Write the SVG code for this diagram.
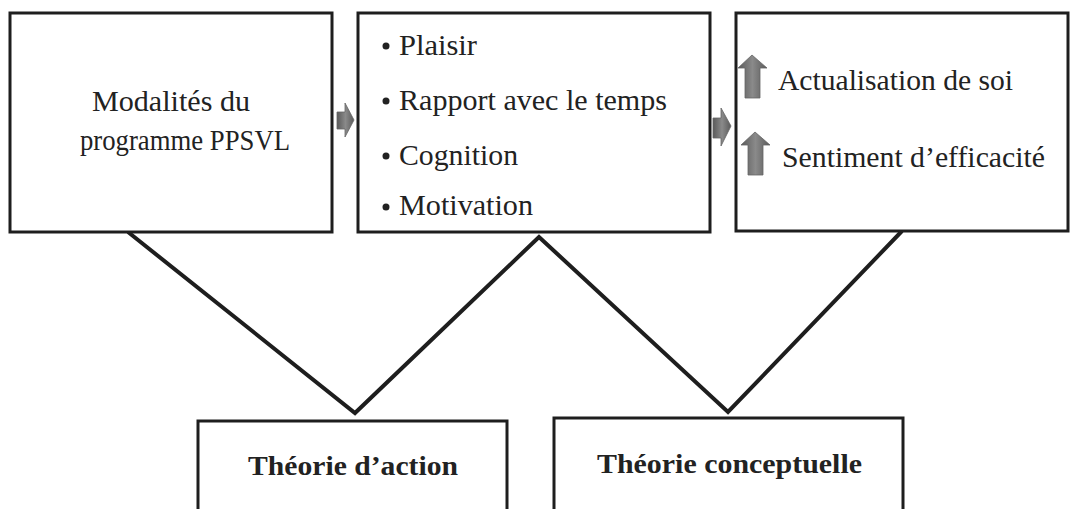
<svg xmlns="http://www.w3.org/2000/svg" width="1072" height="509" viewBox="0 0 1072 509">
<style>
.box{fill:#fff;stroke:#1e1e1e;stroke-width:3}
.t{font-family:"Liberation Serif","Times New Roman",serif;font-size:29px;fill:#222}
.b{font-weight:bold;font-size:28px}
.conn{fill:none;stroke:#1e1e1e;stroke-width:4;stroke-linejoin:miter}
.arr{fill:url(#g);stroke:#666;stroke-width:0.8}
</style>
<defs>
<linearGradient id="g" x1="0" y1="0" x2="1" y2="0">
<stop offset="0" stop-color="#5a5a5a"/>
<stop offset="0.5" stop-color="#8a8a8a"/>
<stop offset="1" stop-color="#5a5a5a"/>
</linearGradient>
</defs>
<rect width="1072" height="509" fill="#fff"/>
<g id="connectors">
<polyline class="conn" points="128,232 355,413 539,237 728,412 902,231"/>
<path class="arr" d="M337,112 L345,112 L345,103 L354,120 L345,137 L345,129 L337,129 Z"/>
<path class="arr" d="M713,118 L721,118 L721,108 L731,126 L721,146 L721,138 L713,138 Z"/>
</g>
<g id="n1">
<rect class="box" x="10" y="13" width="322" height="219"/>
<text class="t" x="92" y="111" textLength="158" lengthAdjust="spacingAndGlyphs">Modalités du</text>
<text class="t" x="80" y="150" textLength="210" lengthAdjust="spacingAndGlyphs">programme PPSVL</text>
</g>
<g id="n2">
<rect class="box" x="358" y="13" width="352" height="219"/>
<g class="t">
<circle cx="386" cy="46" r="3.5" fill="#222"/>
<text x="399" y="55" textLength="78" lengthAdjust="spacingAndGlyphs">Plaisir</text>
<circle cx="386" cy="101" r="3.5" fill="#222"/>
<text x="399" y="110" textLength="268" lengthAdjust="spacingAndGlyphs">Rapport avec le temps</text>
<circle cx="386" cy="156" r="3.5" fill="#222"/>
<text x="399" y="165" textLength="119" lengthAdjust="spacingAndGlyphs">Cognition</text>
<circle cx="386" cy="207" r="3.5" fill="#222"/>
<text x="399" y="215" textLength="134" lengthAdjust="spacingAndGlyphs">Motivation</text>
</g>
</g>
<g id="n3">
<rect class="box" x="736" y="13" width="332" height="218"/>
<path class="arr" d="M745,98 L745,68 L738,68 L752,55 L767,68 L760,68 L760,98 Z"/>
<path class="arr" d="M748,175 L748,145 L741,145 L755,132 L770,145 L763,145 L763,175 Z"/>
<text class="t" x="778" y="90" textLength="235" lengthAdjust="spacingAndGlyphs">Actualisation de soi</text>
<text class="t" x="782" y="167" textLength="263" lengthAdjust="spacingAndGlyphs">Sentiment d’efficacité</text>
</g>
<g id="n4">
<rect class="box" x="198" y="421" width="309" height="100"/>
<text class="t b" x="248" y="475" textLength="210" lengthAdjust="spacingAndGlyphs">Théorie d’action</text>
</g>
<g id="n5">
<rect class="box" x="554" y="418" width="349" height="100"/>
<text class="t b" x="597" y="473" textLength="265" lengthAdjust="spacingAndGlyphs">Théorie conceptuelle</text>
</g>
</svg>
